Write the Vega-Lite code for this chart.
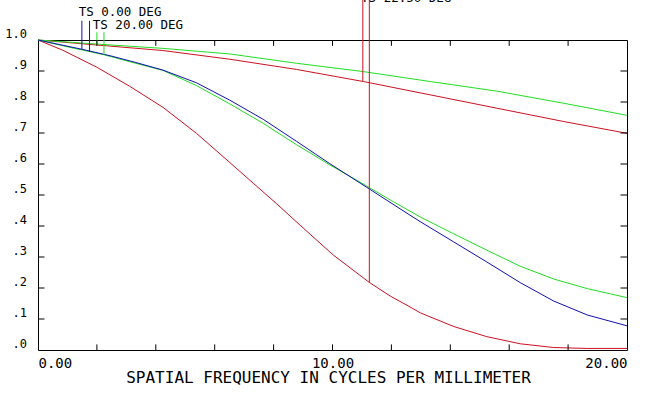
{
  "$schema": "https://vega.github.io/schema/vega-lite/v6.json",
  "width": 589,
  "height": 310,
  "autosize": {"type": "none"},
  "padding": {"left": 38, "top": 40, "right": 24, "bottom": 47},
  "background": "white",
  "config": {
    "view": {"stroke": "black", "strokeWidth": 1}
  },
  "datasets": {
    "curves": [
      {"deg": "22.50", "ts": "T", "f": 0, "m": 1.0},
      {"deg": "22.50", "ts": "T", "f": 0.84, "m": 0.967},
      {"deg": "22.50", "ts": "T", "f": 1.98, "m": 0.913},
      {"deg": "22.50", "ts": "T", "f": 3.11, "m": 0.851},
      {"deg": "22.50", "ts": "T", "f": 4.24, "m": 0.783},
      {"deg": "22.50", "ts": "T", "f": 5.38, "m": 0.699},
      {"deg": "22.50", "ts": "T", "f": 6.51, "m": 0.605},
      {"deg": "22.50", "ts": "T", "f": 7.31, "m": 0.538},
      {"deg": "22.50", "ts": "T", "f": 8.10, "m": 0.472},
      {"deg": "22.50", "ts": "T", "f": 9.01, "m": 0.393},
      {"deg": "22.50", "ts": "T", "f": 10.03, "m": 0.306},
      {"deg": "22.50", "ts": "T", "f": 11.25, "m": 0.218},
      {"deg": "22.50", "ts": "T", "f": 11.96, "m": 0.174},
      {"deg": "22.50", "ts": "T", "f": 12.63, "m": 0.139},
      {"deg": "22.50", "ts": "T", "f": 12.98, "m": 0.120},
      {"deg": "22.50", "ts": "T", "f": 14.11, "m": 0.076},
      {"deg": "22.50", "ts": "T", "f": 15.24, "m": 0.043},
      {"deg": "22.50", "ts": "T", "f": 16.38, "m": 0.020},
      {"deg": "22.50", "ts": "T", "f": 17.51, "m": 0.008},
      {"deg": "22.50", "ts": "T", "f": 18.65, "m": 0.005},
      {"deg": "22.50", "ts": "T", "f": 20, "m": 0.005},
      {"deg": "22.50", "ts": "S", "f": 0, "m": 1.0},
      {"deg": "22.50", "ts": "S", "f": 1.98, "m": 0.984},
      {"deg": "22.50", "ts": "S", "f": 4.24, "m": 0.966},
      {"deg": "22.50", "ts": "S", "f": 6.51, "m": 0.938},
      {"deg": "22.50", "ts": "S", "f": 8.78, "m": 0.905},
      {"deg": "22.50", "ts": "S", "f": 11.05, "m": 0.866},
      {"deg": "22.50", "ts": "S", "f": 13.32, "m": 0.823},
      {"deg": "22.50", "ts": "S", "f": 15.58, "m": 0.78},
      {"deg": "22.50", "ts": "S", "f": 17.85, "m": 0.737},
      {"deg": "22.50", "ts": "S", "f": 20, "m": 0.699},
      {"deg": "20.00", "ts": "S", "f": 0, "m": 1.0},
      {"deg": "20.00", "ts": "S", "f": 1.98, "m": 0.987},
      {"deg": "20.00", "ts": "S", "f": 4.24, "m": 0.973},
      {"deg": "20.00", "ts": "S", "f": 6.51, "m": 0.955},
      {"deg": "20.00", "ts": "S", "f": 8.78, "m": 0.925},
      {"deg": "20.00", "ts": "S", "f": 11.05, "m": 0.898},
      {"deg": "20.00", "ts": "S", "f": 13.32, "m": 0.866},
      {"deg": "20.00", "ts": "S", "f": 15.58, "m": 0.835},
      {"deg": "20.00", "ts": "S", "f": 17.85, "m": 0.796},
      {"deg": "20.00", "ts": "S", "f": 20, "m": 0.757},
      {"deg": "20.00", "ts": "T", "f": 0, "m": 1.0},
      {"deg": "20.00", "ts": "T", "f": 1.0, "m": 0.978},
      {"deg": "20.00", "ts": "T", "f": 2.26, "m": 0.952},
      {"deg": "20.00", "ts": "T", "f": 3.11, "m": 0.930},
      {"deg": "20.00", "ts": "T", "f": 4.24, "m": 0.902},
      {"deg": "20.00", "ts": "T", "f": 5.38, "m": 0.853},
      {"deg": "20.00", "ts": "T", "f": 6.51, "m": 0.794},
      {"deg": "20.00", "ts": "T", "f": 7.65, "m": 0.731},
      {"deg": "20.00", "ts": "T", "f": 8.78, "m": 0.662},
      {"deg": "20.00", "ts": "T", "f": 9.91, "m": 0.597},
      {"deg": "20.00", "ts": "T", "f": 10.82, "m": 0.548},
      {"deg": "20.00", "ts": "T", "f": 11.96, "m": 0.484},
      {"deg": "20.00", "ts": "T", "f": 12.98, "m": 0.429},
      {"deg": "20.00", "ts": "T", "f": 14.11, "m": 0.375},
      {"deg": "20.00", "ts": "T", "f": 15.24, "m": 0.322},
      {"deg": "20.00", "ts": "T", "f": 16.38, "m": 0.270},
      {"deg": "20.00", "ts": "T", "f": 17.51, "m": 0.229},
      {"deg": "20.00", "ts": "T", "f": 18.65, "m": 0.198},
      {"deg": "20.00", "ts": "T", "f": 20, "m": 0.169},
      {"deg": "0.00", "ts": "T", "f": 0, "m": 1.0},
      {"deg": "0.00", "ts": "T", "f": 1.5, "m": 0.970},
      {"deg": "0.00", "ts": "T", "f": 2.5, "m": 0.948},
      {"deg": "0.00", "ts": "T", "f": 3.3, "m": 0.928},
      {"deg": "0.00", "ts": "T", "f": 4.24, "m": 0.903},
      {"deg": "0.00", "ts": "T", "f": 5.38, "m": 0.862},
      {"deg": "0.00", "ts": "T", "f": 6.51, "m": 0.806},
      {"deg": "0.00", "ts": "T", "f": 7.65, "m": 0.744},
      {"deg": "0.00", "ts": "T", "f": 8.78, "m": 0.673},
      {"deg": "0.00", "ts": "T", "f": 9.91, "m": 0.601},
      {"deg": "0.00", "ts": "T", "f": 11.16, "m": 0.525},
      {"deg": "0.00", "ts": "T", "f": 12.63, "m": 0.435},
      {"deg": "0.00", "ts": "T", "f": 12.98, "m": 0.414},
      {"deg": "0.00", "ts": "T", "f": 14.11, "m": 0.349},
      {"deg": "0.00", "ts": "T", "f": 15.24, "m": 0.284},
      {"deg": "0.00", "ts": "T", "f": 16.38, "m": 0.217},
      {"deg": "0.00", "ts": "T", "f": 17.51, "m": 0.158},
      {"deg": "0.00", "ts": "T", "f": 18.65, "m": 0.113},
      {"deg": "0.00", "ts": "T", "f": 20, "m": 0.078}
    ],
    "markers": [
      {"deg": "0.00", "f": 1.49, "top": 1.062, "bottom": 0.971},
      {"deg": "0.00", "f": 1.75, "top": 1.062, "bottom": 0.962},
      {"deg": "20.00", "f": 2.0, "top": 1.025, "bottom": 0.986},
      {"deg": "20.00", "f": 2.24, "top": 1.025, "bottom": 0.952},
      {"deg": "22.50", "f": 11.03, "top": 1.135, "bottom": 0.866},
      {"deg": "22.50", "f": 11.25, "top": 1.135, "bottom": 0.218}
    ],
    "labels": [
      {"label": "TS 0.00 DEG", "f": 1.38, "m": 1.09},
      {"label": "TS 20.00 DEG", "f": 1.86, "m": 1.05},
      {"label": "TS 22.50 DEG", "f": 10.97, "m": 1.135}
    ],
    "xticks": [
      {"v": 2}, {"v": 4}, {"v": 6}, {"v": 8}, {"v": 10},
      {"v": 12}, {"v": 14}, {"v": 16}, {"v": 18}
    ],
    "yticks": [
      {"v": 0.1}, {"v": 0.2}, {"v": 0.3}, {"v": 0.4}, {"v": 0.5},
      {"v": 0.6}, {"v": 0.7}, {"v": 0.8}, {"v": 0.9}
    ]
  },
  "layer": [
    {
      "data": {"name": "curves"},
      "mark": {"type": "line", "strokeWidth": 1},
      "encoding": {
        "x": {
          "field": "f", "type": "quantitative",
          "scale": {"domain": [0, 20], "nice": false, "zero": false},
          "axis": {
            "orient": "bottom",
            "grid": false, "domain": false, "ticks": false,
            "values": [0, 2, 4, 6, 8, 10, 12, 14, 16, 18, 20],
            "labelExpr": "datum.value == 0 || datum.value == 10 || datum.value == 20 ? format(datum.value, '.2f') : ''",
            "labelFlush": true,
            "labelFont": "DejaVu Sans Mono",
            "labelColor": "black",
            "labelFontSize": 14,
            "labelBaseline": "alphabetic",
            "labelPadding": 17,
            "title": "SPATIAL FREQUENCY IN CYCLES PER MILLIMETER",
            "titleFont": "DejaVu Sans Mono",
            "titleFontWeight": "normal",
            "titleColor": "black",
            "titleFontSize": 16,
            "titleBaseline": "alphabetic",
            "titleY": 32,
            "titleX": 290
          }
        },
        "y": {
          "field": "m", "type": "quantitative",
          "scale": {"domain": [0, 1], "nice": false, "zero": false},
          "axis": {
            "orient": "left",
            "grid": false, "domain": false, "ticks": false,
            "values": [0, 0.1, 0.2, 0.3, 0.4, 0.5, 0.6, 0.7, 0.8, 0.9, 1],
            "labelExpr": "datum.value >= 1 ? '1.0' : '.' + round(datum.value * 10)",
            "labelFlush": false,
            "labelFont": "DejaVu Sans Mono",
            "labelColor": "black",
            "labelFontSize": 12,
            "labelAlign": "right",
            "labelBaseline": "alphabetic",
            "labelOffset": -3,
            "labelPadding": 11.5,
            "title": null
          }
        },
        "color": {
          "field": "deg", "type": "nominal",
          "scale": {"domain": ["0.00", "20.00", "22.50"], "range": ["#1010b0", "#22dd22", "#cc1122"]},
          "legend": null
        },
        "detail": {"field": "ts"}
      }
    },
    {
      "data": {"name": "markers"},
      "mark": {"type": "rule", "strokeWidth": 1},
      "encoding": {
        "x": {"field": "f", "type": "quantitative", "axis": null},
        "y": {"field": "top", "type": "quantitative", "axis": null},
        "y2": {"field": "bottom"},
        "color": {"field": "deg", "type": "nominal", "legend": null}
      }
    },
    {
      "data": {"name": "xticks"},
      "mark": {"type": "rule", "strokeWidth": 1, "color": "black"},
      "encoding": {
        "x": {"field": "v", "type": "quantitative", "axis": null},
        "y": {"datum": 0, "type": "quantitative", "axis": null},
        "y2": {"datum": 0.018}
      }
    },
    {
      "data": {"name": "xticks"},
      "mark": {"type": "rule", "strokeWidth": 1, "color": "black"},
      "encoding": {
        "x": {"field": "v", "type": "quantitative", "axis": null},
        "y": {"datum": 1, "type": "quantitative", "axis": null},
        "y2": {"datum": 0.981}
      }
    },
    {
      "data": {"name": "yticks"},
      "mark": {"type": "rule", "strokeWidth": 1, "color": "black"},
      "encoding": {
        "y": {"field": "v", "type": "quantitative", "axis": null},
        "x": {"datum": 0, "type": "quantitative", "axis": null},
        "x2": {"datum": 0.22}
      }
    },
    {
      "data": {"name": "yticks"},
      "mark": {"type": "rule", "strokeWidth": 1, "color": "black"},
      "encoding": {
        "y": {"field": "v", "type": "quantitative", "axis": null},
        "x": {"datum": 20, "type": "quantitative", "axis": null},
        "x2": {"datum": 19.78}
      }
    },
    {
      "data": {"name": "labels"},
      "mark": {"type": "text", "align": "left", "baseline": "middle", "fontSize": 12.5, "font": "DejaVu Sans Mono", "color": "black"},
      "encoding": {
        "x": {"field": "f", "type": "quantitative", "axis": null},
        "y": {"field": "m", "type": "quantitative", "axis": null},
        "text": {"field": "label"}
      }
    }
  ],
  "resolve": {"axis": {"x": "independent", "y": "independent"}}
}
